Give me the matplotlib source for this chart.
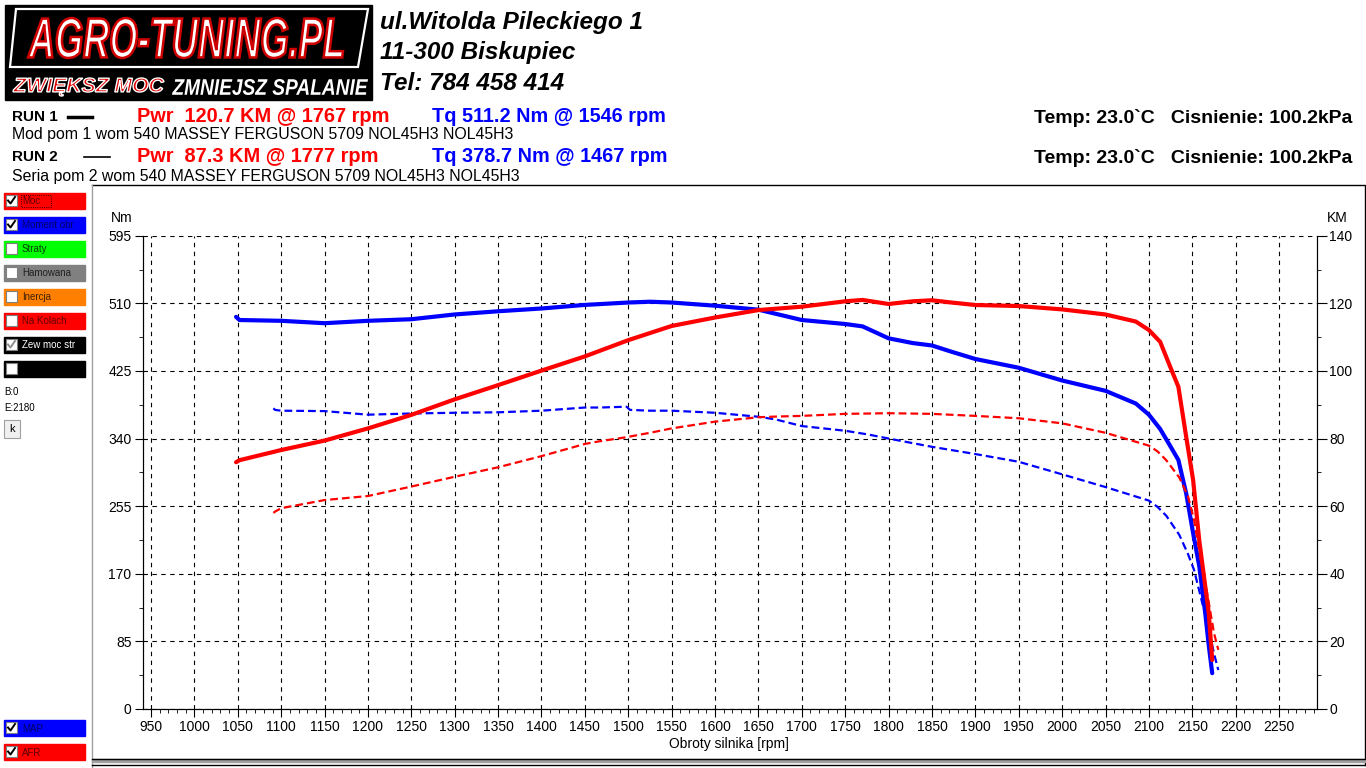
import matplotlib
matplotlib.use("Agg")
import matplotlib.pyplot as plt
from matplotlib.patches import Rectangle, Polygon, PathPatch
from matplotlib.textpath import TextPath
from matplotlib.font_manager import FontProperties
from matplotlib.transforms import Affine2D
from matplotlib.ticker import MultipleLocator

plt.rcParams["font.family"] = ["Liberation Sans", "DejaVu Sans"]

# --- RUN 1 (Mod pom 1) ---
rpm1 = [1048, 1052, 1100, 1150, 1200, 1250, 1300, 1350, 1400, 1450, 1500, 1525, 1550,
        1600, 1650, 1700, 1750, 1770, 1780, 1800, 1828, 1850, 1870, 1900, 1950, 2000,
        2050, 2085, 2100, 2113, 2126, 2134, 2143, 2151, 2158, 2165, 2169, 2173]
tq1 = [493, 489, 488, 485, 488, 490, 496, 500, 503.5, 508, 511, 512, 511,
       507, 502, 489, 484, 481, 476, 466, 460, 457, 450, 440, 429, 413,
       400, 384, 370, 352, 328, 313, 271, 221, 180, 120, 80, 45]
pw1 = [73.0, 73.6, 76.6, 79.4, 83.0, 87.0, 91.6, 95.8, 100.1, 104.3, 109.1, 111.2, 113.3,
       115.8, 118.0, 119.0, 120.6, 121.0, 120.6, 119.8, 120.6, 120.9, 120.3, 119.5, 119.2, 118.2,
       116.7, 114.6, 112.1, 108.6, 100.3, 95.3, 80.5, 67.7, 50.0, 36.2, 28.4, 14.5]

# --- RUN 2 (Seria pom 2) ---
rpm2 = [1091, 1093, 1100, 1150, 1200, 1250, 1300, 1350, 1400, 1450, 1467, 1498, 1502,
        1525, 1550, 1600, 1650, 1670, 1700, 1750, 1777, 1800, 1850, 1900, 1950, 2000,
        2050, 2100, 2110, 2120, 2135, 2145, 2152, 2160, 2168, 2175, 2180]
tq2 = [378, 376, 375, 374.5, 370, 371.5, 372.4, 373, 375, 379, 379, 380, 376,
       375, 375, 372.4, 367.4, 364, 355.7, 349.8, 345, 340, 329.6, 320.5, 310.8, 295,
       279, 262, 254, 243, 219, 195, 175, 140, 105, 70, 49]
pw2 = [58.0, 58.4, 59.4, 61.8, 63.0, 65.8, 68.7, 71.5, 74.8, 78.4, 79.2, 80.4, 80.6,
       81.7, 83.0, 85.0, 86.3, 86.5, 86.7, 87.3, 87.4, 87.5, 87.3, 86.7, 86.0, 84.5,
       81.7, 77.9, 76.2, 73.6, 68.5, 63.0, 56.0, 44.0, 33.0, 22.5, 17.5]

nm_ticks = [0, 85, 170, 255, 340, 425, 510, 595]
km_ticks = [0, 20, 40, 60, 80, 100, 120, 140]
rpm_ticks = list(range(950, 2251, 50))

panel_items = [("Moc", "#FF0000", "#600000", True),
               ("Moment obr.", "#0000FF", "#000060", True),
               ("Straty", "#00FF00", "#004000", False),
               ("Hamowana", "#808080", "#202020", False),
               ("Inercja", "#FF8000", "#402000", False),
               ("Na Kolach", "#FF0000", "#600000", False),
               ("Zew moc str", "#000000", "#FFFFFF", True),
               ("", "#000000", "#FFFFFF", False)]
bottom_items = [("MAP", "#0000FF", "#000060"), ("AFR", "#FF0000", "#600000")]

W, H = 1366, 768
fig = plt.figure(figsize=(W / 100, H / 100), dpi=100, facecolor="white")

# overlay in pixel coordinates
ov = fig.add_axes([0, 0, 1, 1])
ov.set_xlim(0, W)
ov.set_ylim(H, 0)
ov.axis("off")


def fit_text(s, x0, y0, x1, y1, face, edge=None, lw=0, italic=True):
    fp = FontProperties(family="Liberation Sans", weight="bold",
                        style="italic" if italic else "normal")
    tp = TextPath((0, 0), s, size=1, prop=fp)
    ext = tp.get_extents()
    sx = (x1 - x0) / ext.width
    sy = (y1 - y0) / ext.height
    tr = Affine2D().translate(-ext.x0, -ext.y0).scale(sx, -sy).translate(x0, y1)
    p = tr.transform_path(tp)
    ov.add_patch(PathPatch(p, facecolor=face, edgecolor=edge if edge else "none",
                           lw=lw, zorder=5))


# logo
ov.add_patch(Rectangle((5, 5), 367, 95, color="black", zorder=3))
ov.add_patch(Polygon([(16, 9), (368, 9), (358, 67), (10, 67)], closed=True,
                     fill=False, edgecolor="white", lw=1.6, zorder=4))
fit_text("AGRO-TUNING.PL", 28, 18, 343, 58, "white", "#D00000", 1.8)
fit_text("ZWIĘKSZ MOC", 13, 78, 164, 96, "#E00000", "white", 1.0)
fit_text("ZMNIEJSZ SPALANIE", 172, 79, 368, 95, "white")

addr_kw = dict(fontsize=17.5, fontweight="bold", fontstyle="italic", va="center", ha="left")
ov.text(380, 22, "ul.Witolda Pileckiego 1", **addr_kw)
ov.text(380, 53, "11-300 Biskupiec", **addr_kw)
ov.text(380, 83, "Tel: 784 458 414", **addr_kw)

# run headers
ov.text(12, 117, "RUN 1", fontsize=11, fontweight="bold", va="center")
ov.plot([68, 92], [117, 117], color="black", lw=2.5)
ov.text(137, 117, "Pwr  120.7 KM @ 1767 rpm", fontsize=14.4, fontweight="bold", color="#FF0000", va="center")
ov.text(432, 117, "Tq 511.2 Nm @ 1546 rpm", fontsize=14.3, fontweight="bold", color="#0000FF", va="center")
ov.text(12, 135, "Mod pom 1 wom 540 MASSEY FERGUSON 5709 NOL45H3 NOL45H3", fontsize=11.4, va="center")
ov.text(12, 157, "RUN 2", fontsize=11, fontweight="bold", va="center")
ov.plot([84, 110], [157, 157], color="black", lw=1.2)
ov.text(137, 157, "Pwr  87.3 KM @ 1777 rpm", fontsize=14.4, fontweight="bold", color="#FF0000", va="center")
ov.text(432, 157, "Tq 378.7 Nm @ 1467 rpm", fontsize=14.3, fontweight="bold", color="#0000FF", va="center")
ov.text(12, 176, "Seria pom 2 wom 540 MASSEY FERGUSON 5709 NOL45H3 NOL45H3", fontsize=11.4, va="center")
for yy in (118, 158):
    ov.text(1352, yy, "Temp: 23.0`C   Cisnienie: 100.2kPa", fontsize=14, fontweight="bold",
            ha="right", va="center")

# chart frame
ov.plot([92, 1365, 1365], [185, 185, 765], color="black", lw=1)
ov.plot([92, 92], [185, 768], color="#A0A0A0", lw=1)
ov.add_patch(Rectangle((92, 759), 1273, 3, color="#A0A0A0", zorder=2))
ov.plot([92, 1365], [759, 759], color="black", lw=1)
ov.plot([92, 1365], [765, 765], color="black", lw=1)


def checkbox(y0, label, bg, fg, checked, check_col="black"):
    ov.add_patch(Rectangle((4, y0), 81, 16, color=bg, zorder=3))
    ov.add_patch(Rectangle((6, y0 + 2), 11, 11, facecolor="white", edgecolor="#808080", lw=0.8, zorder=4))
    if checked:
        ov.plot([8, 10.5, 15], [y0 + 7.5, y0 + 10.5, y0 + 4], color=check_col, lw=1.4, zorder=5)
    if label:
        ov.text(22, y0 + 8.5, label, fontsize=7, color=fg, va="center", zorder=5)


for i, (lab, bg, fg, chk) in enumerate(panel_items):
    checkbox(193 + 24 * i, lab, bg, fg, chk, "#909090" if lab.startswith("Zew") else "black")
ov.add_patch(Rectangle((21, 195), 30, 12, fill=False, edgecolor="black", lw=0.6, ls=":", zorder=6))
for j, (lab, bg, fg) in enumerate(bottom_items):
    checkbox(720 + 24 * j, lab, bg, fg, True)
ov.text(4, 392, "B:0", fontsize=7, va="center")
ov.text(4, 408, "E:2180", fontsize=7, va="center")
ov.add_patch(Rectangle((4, 420), 16, 18, facecolor="#F0F0F0", edgecolor="#A0A0A0", lw=0.8, zorder=4))
ov.text(12, 429, "k", fontsize=8, ha="center", va="center", zorder=5)

# main chart
L, R, T, B = 142.7, 1316.7, 235.7, 709.0
ax = fig.add_axes([L / W, 1 - B / H, (R - L) / W, (B - T) / H])
ax.set_facecolor("none")
ax2 = ax.twinx()

ax.set_xlim(940.4, 2293.4)
ax.set_ylim(0, 595)
ax2.set_ylim(0, 140)

ax.set_xticks(rpm_ticks)
ax.xaxis.set_minor_locator(MultipleLocator(10))
ax.set_yticks(nm_ticks)
ax.yaxis.set_minor_locator(MultipleLocator(42.5))
ax2.set_yticks(km_ticks)
ax2.yaxis.set_minor_locator(MultipleLocator(10))

ax.grid(True, which="major", color="black", lw=0.8, ls=(0, (4, 4)))
ax.spines["top"].set_visible(False)
ax2.spines["top"].set_visible(False)
ax.tick_params(axis="both", which="major", direction="out", length=6, labelsize=10, pad=2)
ax.tick_params(axis="both", which="minor", direction="out", length=3)
ax2.tick_params(axis="y", which="major", direction="out", length=7, labelsize=10, pad=2)
ax2.tick_params(axis="y", which="minor", direction="out", length=3)

ax.plot(rpm2, tq2, color="#0000FF", lw=1.6, ls=(0, (3.5, 1.8)), zorder=3)
ax2.plot(rpm2, pw2, color="#FF0000", lw=1.6, ls=(0, (3.5, 1.8)), zorder=3)
ax.plot(rpm1, tq1, color="#0000FF", lw=3, solid_capstyle="round", zorder=4)
ax2.plot(rpm1, pw1, color="#FF0000", lw=3, solid_capstyle="round", zorder=4)

ov.text(122, 218, "Nm", fontsize=10, ha="center", va="center")
ov.text(1337, 218, "KM", fontsize=10, ha="center", va="center")
ov.text(729, 744, "Obroty silnika [rpm]", fontsize=10, ha="center", va="center")

fig.savefig("out.png", dpi=100, facecolor="white")
